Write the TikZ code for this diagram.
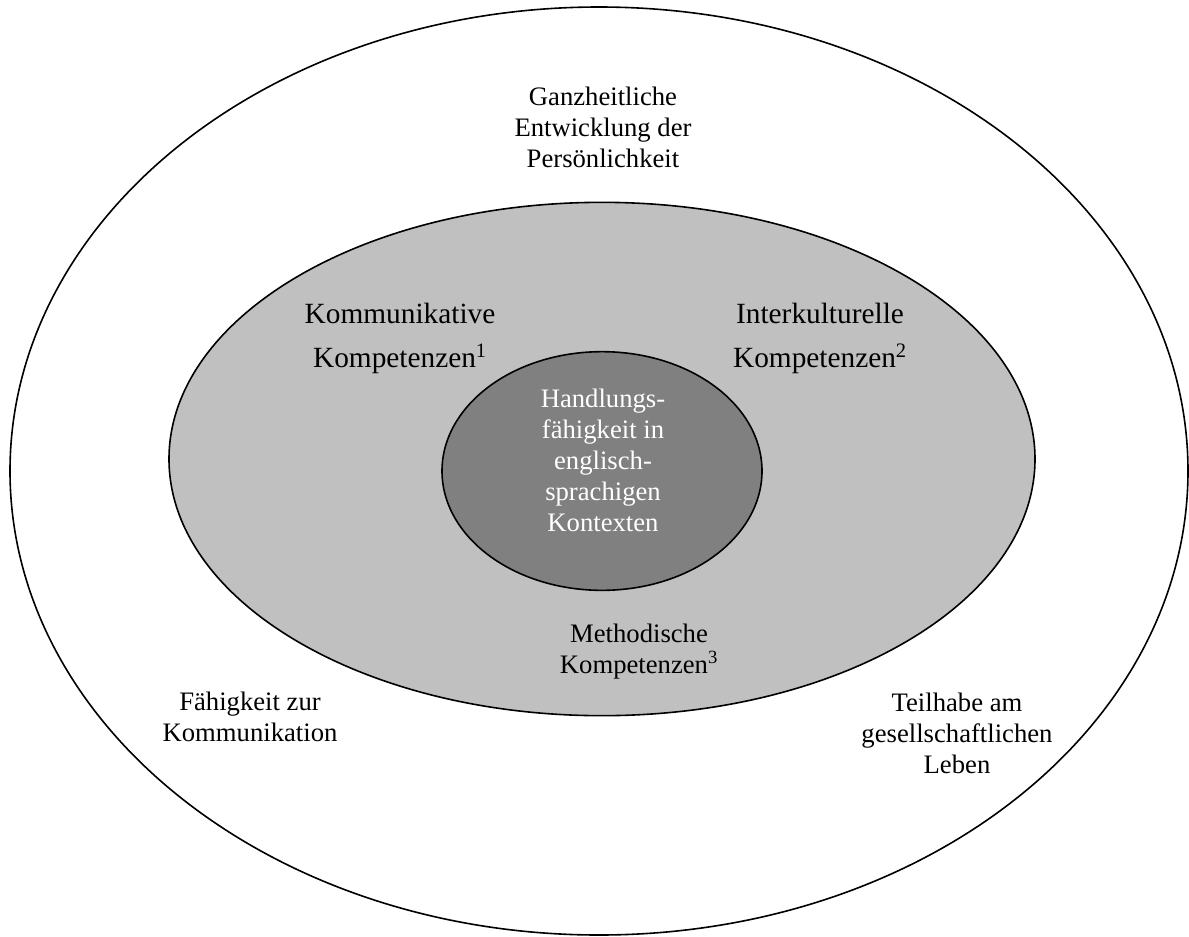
\documentclass[tikz,border=0pt]{standalone}
\usepackage{fontspec}
\setmainfont{Liberation Serif}
\usetikzlibrary{shapes.geometric}
\definecolor{midgray}{HTML}{C0C0C0}
\definecolor{coregray}{HTML}{808080}
\tikzset{
  ring/.style={ellipse,draw,line width=1.2pt,inner sep=0pt},
  smalltext/.style={align=center,font=\fontsize{20}{23.25}\selectfont},
  bigtext/.style={align=center,font=\fontsize{22}{33}\selectfont}
}
\begin{document}
\begin{tikzpicture}[x=0.75pt,y=-0.75pt]
\useasboundingbox (0,0) rectangle (1189,936);

\node[ring,minimum width=883.5pt,minimum height=696pt] (outer) at (599,471) {};
\node[ring,fill=midgray,minimum width=649.5pt,minimum height=385pt] (middle) at (602,459) {};
\node[ring,fill=coregray,minimum width=240pt,minimum height=179pt] (core) at (602,471) {};

\node[smalltext,text=white] (handlung) at (603,460) {Handlungs-\\fähigkeit in\\englisch-\\sprachigen\\Kontexten};

\node[bigtext] (kommk) at (400,338) {Kommunikative\\Kompetenzen\textsuperscript{1}};
\node[bigtext] (interk) at (820,338) {Interkulturelle\\Kompetenzen\textsuperscript{2}};
\node[smalltext] (methk) at (639,652) {Methodische\\Kompetenzen\textsuperscript{3}};

\node[smalltext] (ganz) at (603,127) {Ganzheitliche\\Entwicklung der\\Persönlichkeit};
\node[smalltext] (faehig) at (250,717) {Fähigkeit zur\\Kommunikation};
\node[smalltext] (teilhabe) at (957,733) {Teilhabe am\\gesellschaftlichen\\Leben};
\end{tikzpicture}
\end{document}
